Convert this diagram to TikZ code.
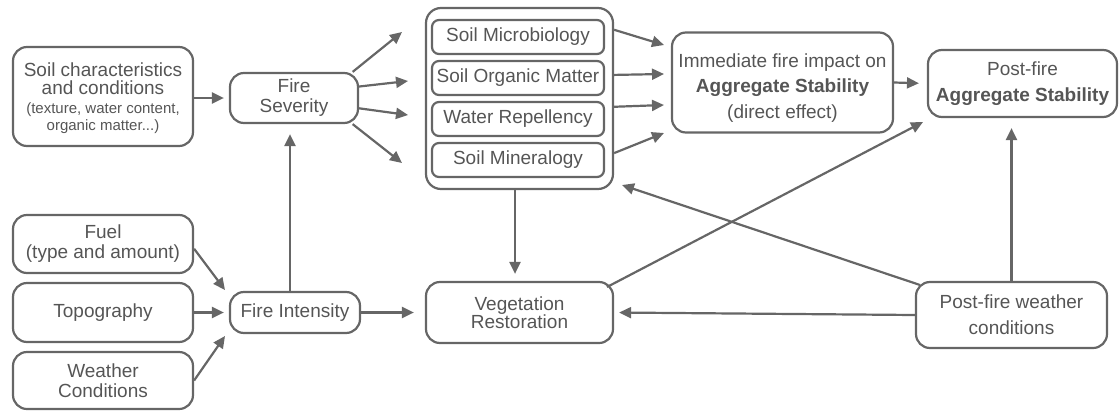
\documentclass[tikz,border=0pt]{standalone}
\usepackage{fontspec}
\setmainfont{Liberation Sans}
\usetikzlibrary{arrows.meta}
\definecolor{ln}{HTML}{666666}
\definecolor{tx}{HTML}{555555}
\begin{document}
\begin{tikzpicture}[x=1pt,y=-1pt,
  fs/.style={font=\fontsize{19}{#1}\selectfont},
  box/.style={draw=ln, line width=2.2pt, rounded corners=14pt, inner sep=0pt,
    text=tx, align=center, fs=20},
  ibox/.style={box, rounded corners=7pt, minimum width=172pt, minimum height=34pt},
  lbl/.style={inner sep=0pt, text=tx, align=center},
  arr/.style={draw=ln, line width=2.2pt, -{Triangle[length=12pt,width=11pt]}}
]
\useasboundingbox (0,0) rectangle (1119,410);

% left column
\node[box, minimum width=180pt, minimum height=99pt] (soil) at (103,96.5) {};
\node[lbl, fs=18] (soilA) at (103,79) {Soil characteristics\\and conditions};
\node[lbl, font=\fontsize{15}{17}\selectfont] (soilB) at (103,118) {(texture, water content,\\organic matter...)};
\node[box, minimum width=180pt, minimum height=58pt] (fuel) at (103,244) {Fuel\\(type and amount)};
\node[box, minimum width=180pt, minimum height=59pt] (topo) at (103,312.5) {Topography};
\node[box, minimum width=180pt, minimum height=57pt] (weather) at (103,380.5) {Weather\\Conditions};

% fire nodes
\node[box, minimum width=128pt, minimum height=50pt] (sev) at (294,98) {Fire\\Severity};
\node[box, minimum width=130pt, minimum height=41pt] (int) at (295,312.5) {Fire Intensity};

% group
\node[box, rounded corners=15pt, minimum width=187pt, minimum height=181pt] (group) at (519.5,98.5) {};
\node[ibox] (micro) at (518,37) {Soil Microbiology};
\node[ibox] (som) at (518,78) {Soil Organic Matter};
\node[ibox] (wrep) at (518,119) {Water Repellency};
\node[ibox] (minl) at (518,160) {Soil Mineralogy};

\node[box, minimum width=187pt, minimum height=61pt, fs=18] (veg) at (519.5,312.5) {Vegetation\\Restoration};

% right
\node[box, minimum width=221pt, minimum height=100pt] (imm) at (782.5,82.5) {};
\node[lbl, fs=25.5] (immT) at (782.5,88) {Immediate fire impact on\\\textbf{Aggregate Stability}\\(direct effect)};
\node[box, minimum width=189pt, minimum height=67pt, fs=26] (post) at (1022.5,83.5) {Post-fire\\\textbf{Aggregate Stability}};
\node[box, minimum width=191pt, minimum height=66pt, fs=26] (pfw) at (1011.5,315) {Post-fire weather\\conditions};

% free ends
\coordinate (s1) at (402,32);
\coordinate (s2) at (408,81);
\coordinate (s3) at (408,115);
\coordinate (s4) at (402,163);
\coordinate (i1) at (664,45);
\coordinate (i2) at (664,74);
\coordinate (i3) at (664,105);
\coordinate (i4) at (664,133);
\coordinate (f1) at (225,290);
\coordinate (w1) at (225,336);
\coordinate (vs) at (607,287);
\coordinate (pe) at (923,122);
\coordinate (ws) at (920,285);
\coordinate (ge) at (622,185);

% connectors
\draw[arr, shorten >=5pt] (soil.east |- sev.west) -- (sev.west);
\draw[arr] (sev.24) -- (s1);
\draw[arr] (sev.10) -- (s2);
\draw[arr] (sev.-9) -- (s3);
\draw[arr] (sev.-24) -- (s4);
\draw[arr] (group.36.6) -- (i1);
\draw[arr] (group.14.7) -- (i2);
\draw[arr] (group.-5.2) -- (i3);
\draw[arr] (group.-30.2) -- (i4);
\draw[arr, shorten >=8pt] (imm.east) -- (post.west);
\draw[arr] (fuel.-3) -- (f1);
\draw[arr, shorten >=5pt] (topo.east) -- (int.west);
\draw[arr] (weather.east) -- (w1);
\draw[arr, shorten >=10pt] ([xshift=-5pt]int.north) -- ([xshift=-5pt]int.north |- sev.south);
\draw[arr, shorten >=11pt] (int.east) -- (veg.west);
\draw[arr, shorten >=7pt] ([xshift=-4.5pt]group.south) -- ([xshift=-4.5pt]veg.north);
\draw[arr, shorten >=5pt] (pfw.west) -- (veg.east);
\draw[arr, shorten >=10pt] (pfw.north) -- (pfw.north |- post.south);
\draw[arr] (vs) -- (pe);
\draw[arr] (ws) -- (ge);
\end{tikzpicture}
\end{document}
